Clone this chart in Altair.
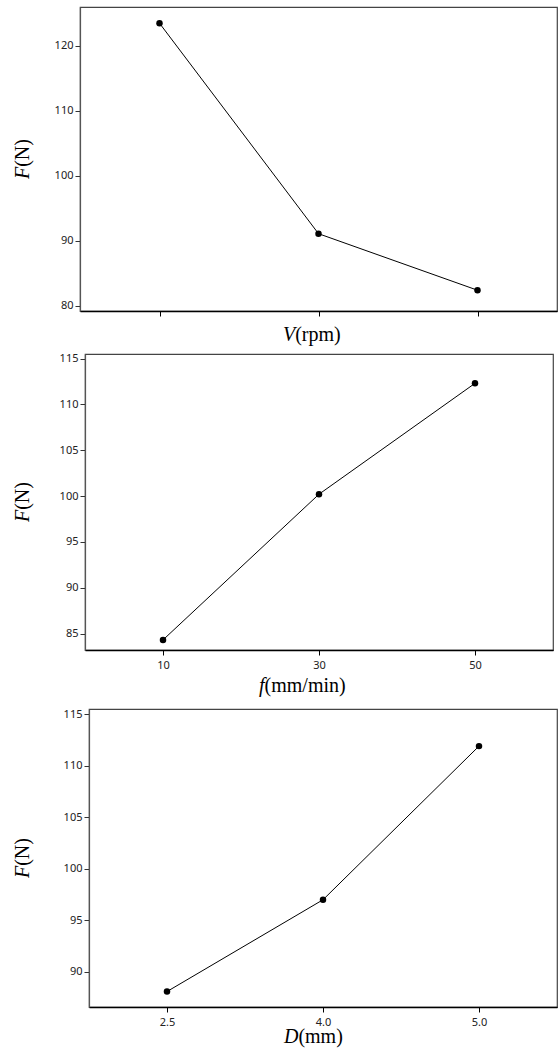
import altair as alt
import pandas as pd

# ---- data ----
v_levels = ["V1", "V2", "V3"]          # rpm levels (no tick labels shown)
v_force = [123.5, 91.1, 82.4]

f_levels = ["10", "30", "50"]          # feed, mm/min
f_force = [84.3, 100.2, 112.3]

d_levels = ["2.5", "4.0", "5.0"]       # depth, mm
d_force = [88.1, 97.0, 111.9]

y_title_italic = "F"
y_title_rest = "(N)"

SERIF = "Liberation Serif"
SANS = "Noto Sans"
TS = 20  # title font size


def text_layer(txt, x, y, italic, angle=0, align="left", baseline="alphabetic"):
    kw = dict(text=txt, font=SERIF, fontSize=TS, color="black", align=align,
              baseline=baseline, fontStyle="italic" if italic else "normal")
    if angle:
        kw["angle"] = angle
    return alt.Chart(pd.DataFrame({"k": [0]})).mark_text(**kw).encode(
        x=alt.value(x), y=alt.value(y)
    )


def spacer(lift):
    return alt.Chart(pd.DataFrame({"k": [0]})).mark_point(opacity=0, size=1).encode(
        x=alt.value(0), y=alt.value(-lift)
    ).properties(width=1, height=1,
                 view=alt.ViewBackground(stroke="transparent", fill="transparent"))


def panel(levels, force, w, h, ydom, yticks, show_labels,
          xt_italic, xt_rest, xt_italic_w, xt_left, xt_base, yt_x, lift):
    df = pd.DataFrame({"level": levels, "force": force})
    base = alt.Chart(df).encode(
        x=alt.X("level:O", sort=levels,
                scale=alt.Scale(type="point", padding=0.5),
                axis=alt.Axis(title=None, labels=show_labels, labelAngle=0,
                              tickSize=5, labelPadding=4, labelFontSize=11,
                              labelFont=SANS, labelColor="#222",
                              domainColor="black", domainWidth=1.5,
                              tickColor="black", tickWidth=1)),
        y=alt.Y("force:Q",
                scale=alt.Scale(domain=ydom, nice=False, zero=False),
                axis=alt.Axis(title=None, values=yticks, grid=False,
                              tickSize=5, labelPadding=2, labelFontSize=11,
                              labelFont=SANS, labelColor="#222",
                              domainColor="#555", domainWidth=1.2,
                              tickColor="#333", tickWidth=1)),
    )
    line = base.mark_line(color="black", strokeWidth=1)
    pts = base.mark_circle(color="black", size=42, opacity=1)

    # x-axis title: italic variable + normal unit
    xt1 = text_layer(xt_italic, xt_left, h + xt_base, True)
    xt2 = text_layer(xt_rest, xt_left + xt_italic_w, h + xt_base, False)
    # y-axis title rotated: F(N)
    ystart = h / 2 + 20
    yt1 = text_layer(y_title_italic, yt_x, ystart, True, angle=270, baseline="middle")
    yt2 = text_layer(y_title_rest, yt_x, ystart - 12.2, False, angle=270, baseline="middle")

    layered = alt.layer(line, pts, xt1, xt2, yt1, yt2).properties(width=w, height=h)
    # a 1px invisible spacer makes each row start flush-left
    return alt.hconcat(spacer(lift), layered, spacing=0)


p1 = panel(v_levels, v_force, 477, 304, [79.2, 126.0], [80, 90, 100, 110, 120], False,
           "V", "(rpm)", 12.2, 203, 30, -57.5, 0)
p2 = panel(f_levels, f_force, 468, 296, [83.2, 115.5], [85, 90, 95, 100, 105, 110, 115], True,
           "f", "(mm/min)", 5.6, 174, 42, -62.5, 0)
p3 = panel(d_levels, d_force, 468, 298, [86.6, 115.5], [90, 95, 100, 105, 110, 115], True,
           "D", "(mm)", 14.4, 195, 36, -66.5, 5)

chart = alt.vconcat(p1, p2, p3, spacing=5).properties(
    padding={"left": 7, "top": 5, "right": 0, "bottom": 0},
    background="white",
).configure_view(stroke="#444", strokeWidth=1.2)

chart.save("out.html", embed_options={"renderer": "svg", "actions": False})
